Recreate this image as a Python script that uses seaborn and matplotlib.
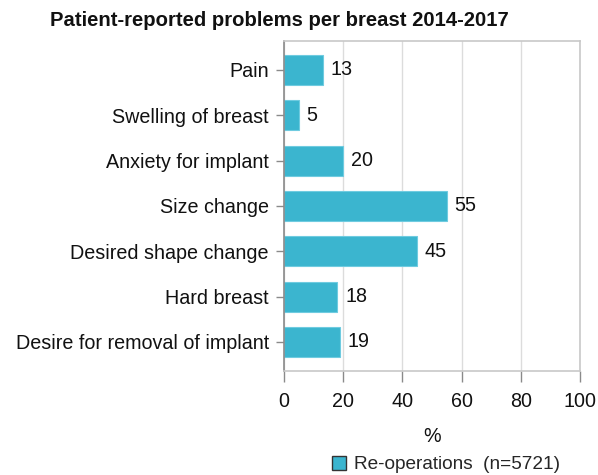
import matplotlib
matplotlib.use("Agg")
import matplotlib.pyplot as plt
import seaborn as sns
import pandas as pd
from matplotlib.patches import Patch

categories = ["Pain", "Swelling of breast", "Anxiety for implant", "Size change",
              "Desired shape change", "Hard breast", "Desire for removal of implant"]
values = [13, 5, 20, 55, 45, 18, 19]
x_ticks = [0, 20, 40, 60, 80, 100]
title = "Patient-reported problems per breast 2014-2017"
series_label = "Re-operations  (n=5721)"

df = pd.DataFrame({"category": categories, "value": values})

sns.set_theme(style="white")
plt.rcParams["font.family"] = ["Liberation Sans", "DejaVu Sans"]

FS = 14.2
fig = plt.figure(figsize=(5.98, 4.75), dpi=100)
ax = fig.add_axes([0.475, 0.219, 0.495, 0.695])

color = "#3BB5CF"
sns.barplot(data=df, y="category", x="value", orient="h", color=color,
            width=0.66, saturation=1, edgecolor="#6FCBE0", linewidth=0.8, ax=ax)

for i, v in enumerate(values):
    ax.text(v + 2.6, i, str(v), va="center", ha="left", fontsize=FS, color="#111111")

ax.set_xlim(0, 100)
ax.set_ylim(6.64, -0.64)
ax.set_xticks(x_ticks)
ax.set_xticklabels([str(t) for t in x_ticks], fontsize=FS, color="#111111")
ax.tick_params(axis="y", labelsize=FS, labelcolor="#111111", left=True, length=6,
               color="#8a8a8a", width=1, pad=5)
ax.tick_params(axis="x", bottom=True, length=8, color="#8a8a8a", width=1, pad=7)
ax.xaxis.grid(True, color="#dcdcdc", linewidth=1)
ax.set_axisbelow(True)
for side in ["top", "right", "bottom"]:
    ax.spines[side].set_color("#c8c8c8")
    ax.spines[side].set_linewidth(1.2)
ax.spines["left"].set_color("#8a8a8a")
ax.spines["left"].set_linewidth(1.2)
ax.set_ylabel("")
ax.set_xlabel("%", fontsize=FS, color="#111111", labelpad=12)

fig.text(0.467, 0.957, title, ha="center", va="center", fontsize=14.6,
         fontweight="bold", color="#111111")

handle = Patch(facecolor=color, edgecolor="#333333", linewidth=1)
fig.legend(handles=[handle], labels=[series_label], loc="center",
           bbox_to_anchor=(0.746, 0.022), frameon=False, fontsize=13.7,
           handlelength=0.75, handleheight=0.75, handletextpad=0.4)

fig.savefig("out.png", dpi=100)
